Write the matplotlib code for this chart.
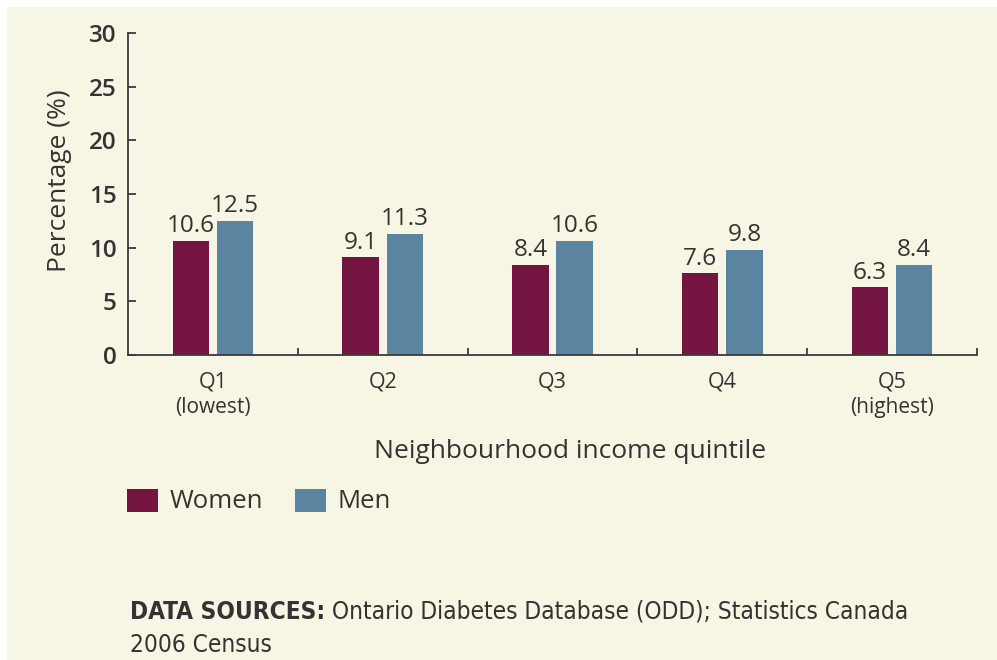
import numpy as np
import matplotlib.pyplot as plt
from matplotlib.patches import Rectangle
import matplotlib.transforms as mtransforms

# Data
quintiles = ['Q1', 'Q2', 'Q3', 'Q4', 'Q5']
sublabels = ['(lowest)', '', '', '', '(highest)']
women = [10.6, 9.1, 8.4, 7.6, 6.3]
men = [12.5, 11.3, 10.6, 9.8, 8.4]
y_ticks = [0, 5, 10, 15, 20, 25, 30]

bg = '#f7f5e3'
women_color = '#741441'
men_color = '#5a84a0'
ink = '#333333'

plt.rcParams['font.family'] = ['Open Sans', 'DejaVu Sans']

fig = plt.figure(figsize=(9.97, 6.6), dpi=100)
fig.patch.set_facecolor('white')
# cream panel (white strip on top and left)
fig.patches.append(Rectangle((7 / 997, 0), 1, 653 / 660, transform=fig.transFigure,
                             facecolor=bg, edgecolor='none', zorder=-10))

ax = fig.add_axes([128 / 997, 305 / 660, 849 / 997, 322 / 660])
ax.set_facecolor('none')

x = np.arange(len(quintiles))
bw = 0.215
off = 0.13
b1 = ax.bar(x - off, women, bw, color=women_color)
b2 = ax.bar(x + off, men, bw, color=men_color)
ax.bar_label(b1, labels=[f'{v:.1f}' for v in women], padding=2, fontsize=17.5, color=ink)
ax.bar_label(b2, labels=[f'{v:.1f}' for v in men], padding=2, fontsize=17.5, color=ink)

ax.set_xlim(-0.5, 4.5)
ax.set_ylim(0, 30)
for s in ['top', 'right']:
    ax.spines[s].set_visible(False)
for s in ['left', 'bottom']:
    ax.spines[s].set_color('#3a3a3a')
    ax.spines[s].set_linewidth(1.3)

ax.set_yticks(y_ticks)
ax.tick_params(axis='y', direction='in', length=6, width=1.3, color='#3a3a3a',
               labelsize=17.5, labelcolor=ink, pad=8)
for lab in ax.get_yticklabels():
    lab.set_fontweight('semibold')

ax.set_xticks(x)
ax.set_xticklabels(quintiles)
ax.tick_params(axis='x', length=0, labelsize=15.5, labelcolor=ink, pad=12)
ax.set_xticks(np.arange(0.5, 5, 1), minor=True)
ax.tick_params(axis='x', which='minor', direction='in', length=5, width=1.3, color='#3a3a3a')

trans = mtransforms.blended_transform_factory(ax.transData, fig.transFigure)
for i, s in enumerate(sublabels):
    if s:
        ax.text(i, 1 - 407 / 660, s, transform=trans, ha='center', va='center',
                fontsize=15, color=ink)

fig.text(60 / 997, 1 - 181 / 660, 'Percentage (%)', rotation=90, ha='center', va='center',
         fontsize=19, color=ink)
fig.text(570 / 997, 1 - 452 / 660, 'Neighbourhood income quintile', ha='center', va='center',
         fontsize=19, color=ink)

# legend
for x0, col, name in [(127, women_color, 'Women'), (295, men_color, 'Men')]:
    fig.patches.append(Rectangle((x0 / 997, 1 - 512 / 660), 31 / 997, 23 / 660,
                                 transform=fig.transFigure, facecolor=col, edgecolor='none'))
    fig.text((x0 + 43) / 997, 1 - 501 / 660, name, ha='left', va='center', fontsize=18.5, color=ink)

# source note
note_font = dict(family='DejaVu Sans', fontstretch='condensed', fontsize=17.5, color=ink)
t = fig.text(130 / 997, 1 - 612 / 660, 'DATA SOURCES:', ha='left', va='center',
             fontweight='bold', **note_font)
ax.annotate(' Ontario Diabetes Database (ODD); Statistics Canada', xy=(1, 0.5), xycoords=t,
            ha='left', va='center', annotation_clip=False, **note_font)
fig.text(130 / 997, 1 - 645 / 660, '2006 Census', ha='left', va='center', **note_font)

fig.savefig('out.png', dpi=100, facecolor=fig.get_facecolor())
